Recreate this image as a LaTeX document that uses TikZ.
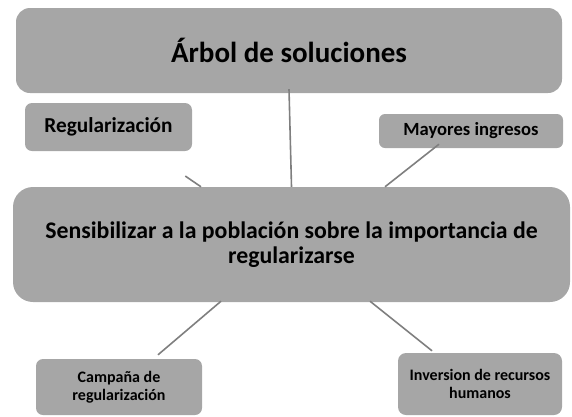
\documentclass[tikz,border=0pt]{standalone}
\usepackage{fontspec}
\setmainfont{Carlito}
\usetikzlibrary{calc}
\definecolor{boxgray}{HTML}{A6A6A6}
\definecolor{linegray}{HTML}{7F7F7F}
\tikzset{
  boxbase/.style={fill=boxgray, draw=none, align=center, inner sep=2pt, font=\bfseries, text=black},
  conn/.style={draw=linegray, line width=1.6pt},
}
\begin{document}
\begin{tikzpicture}[x=1pt,y=-1pt]
\useasboundingbox (0,0) rectangle (572,416);
\node[boxbase, rounded corners=14pt, minimum width=546pt, minimum height=85pt, font=\bfseries\fontsize{29}{34}\selectfont] (title) at (289,50.5) {Árbol de soluciones};
\node[boxbase, rounded corners=7pt, minimum width=167pt, minimum height=48pt, font=\bfseries\fontsize{21.3}{25}\selectfont] (reg) at (108.5,127) {Regularización};
\node[boxbase, rounded corners=6pt, minimum width=184pt, minimum height=34pt, font=\bfseries\fontsize{18.6}{22}\selectfont] (may) at (471,131) {Mayores ingresos};
\node[boxbase, rounded corners=20pt, minimum width=557pt, minimum height=115pt, font=\bfseries\fontsize{23.8}{25.5}\selectfont] (cen) at (291.5,244.5) {Sensibilizar a la población sobre la importancia de\\regularizarse};
\node[boxbase, rounded corners=7pt, minimum width=166pt, minimum height=56pt, font=\bfseries\fontsize{16}{17.5}\selectfont] (camp) at (119,387) {Campaña de\\regularización};
\node[boxbase, rounded corners=8pt, minimum width=164pt, minimum height=62pt, font=\bfseries\fontsize{16}{17.5}\selectfont] (inv) at (480,384) {Inversion de recursos\\humanos};
\draw[conn] ([yshift=4pt]title.south) -- (cen.north);
\draw[conn, shorten <=44pt] ([xshift=40.5pt]reg.south) -- ([xshift=-90.5pt]cen.north);
\draw[conn] ([xshift=-32pt,yshift=4pt]may.south) -- ([xshift=93.5pt]cen.north);
\draw[conn] ([xshift=-70.5pt,yshift=1pt]cen.south) -- ([xshift=39pt,yshift=4pt]camp.north);
\draw[conn] ([xshift=78.5pt,yshift=1pt]cen.south) -- ([xshift=-48pt,yshift=2pt]inv.north);
\end{tikzpicture}
\end{document}
